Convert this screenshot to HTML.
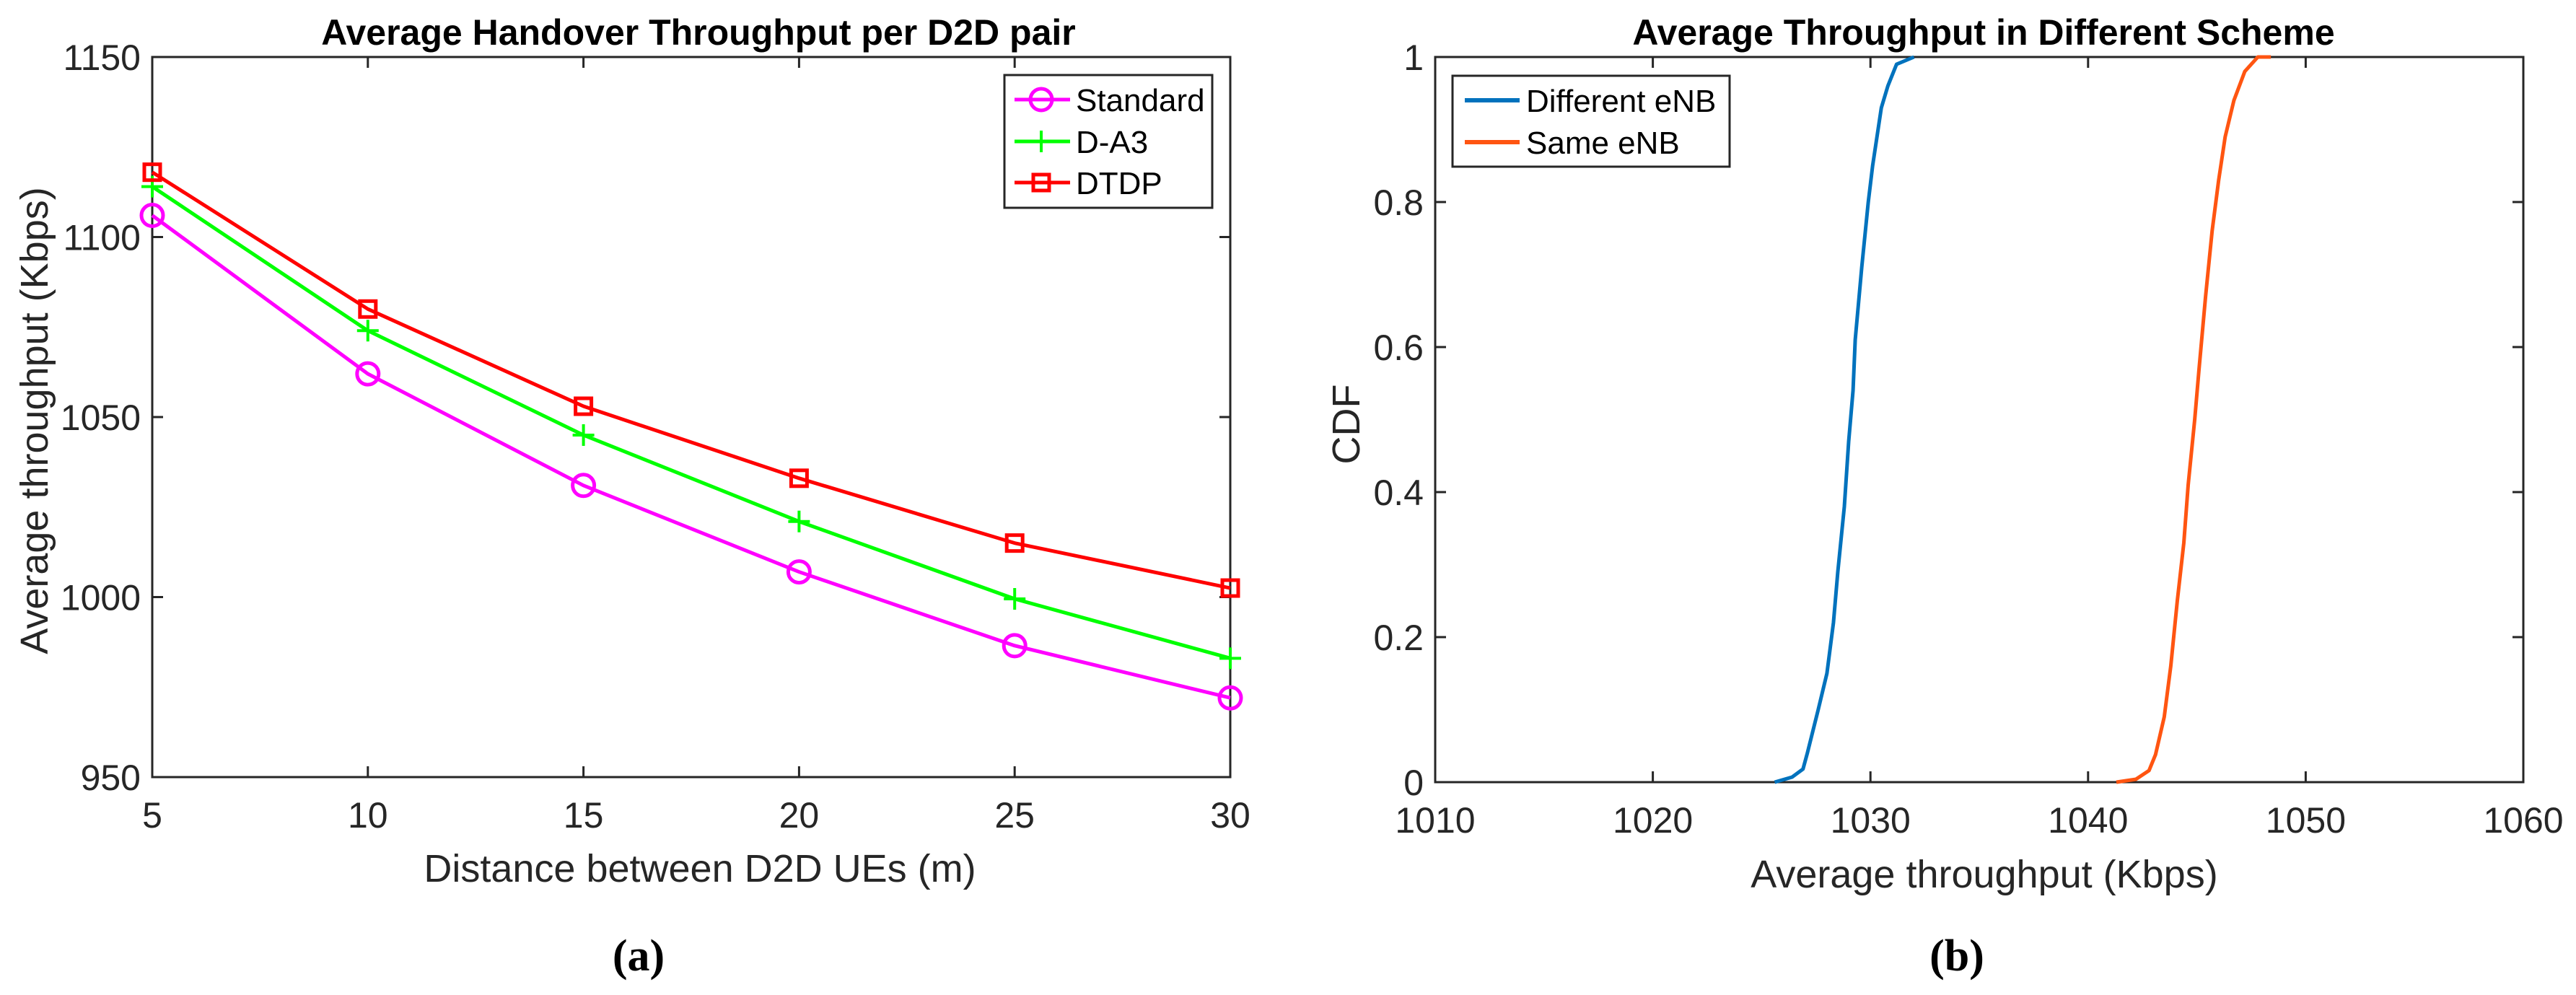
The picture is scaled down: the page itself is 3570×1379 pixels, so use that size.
<!DOCTYPE html>
<html><head><meta charset="utf-8">
<style>
html,body{margin:0;padding:0;background:#fff;}
svg{display:block;font-family:"Liberation Sans",Arial,sans-serif;}
</style></head>
<body>
<svg id="fig" width="3570" height="1379" viewBox="0 0 3570 1379" xmlns="http://www.w3.org/2000/svg">
<rect width="3570" height="1379" fill="#fff"/>
<g id="chartA"></g>
<g id="chartB"></g>
<text x="885" y="1345" font-family="Liberation Serif,serif" font-weight="bold" font-size="62" text-anchor="middle">(a)</text>
<text x="2712" y="1345" font-family="Liberation Serif,serif" font-weight="bold" font-size="62" text-anchor="middle">(b)</text>
</svg>
<script>
const distances = [5,10,15,20,25,30];
const standardVals = [1106,1062,1031,1007,986.5,972];
const da3Vals = [1114,1074,1045,1021,999.5,983];
const dtdpVals = [1118,1080,1053,1033,1015,1002.5];
const yTicksA = [950,1000,1050,1100,1150];
const xTicksA = [5,10,15,20,25,30];

const diffX = [1025.6,1026.4,1026.9,1027.1,1027.6,1028.0,1028.3,1028.5,1028.8,1029.0,1029.2,1029.3,1029.6,1029.9,1030.1,1030.5,1030.8,1031.2,1032.0];
const diffCdf = [0,0.007,0.018,0.04,0.1,0.15,0.22,0.29,0.38,0.47,0.54,0.61,0.71,0.80,0.85,0.93,0.96,0.99,1];
const sameX = [1041.3,1042.2,1042.8,1043.1,1043.5,1043.8,1044.1,1044.4,1044.6,1044.9,1045.1,1045.4,1045.7,1046.0,1046.3,1046.7,1047.2,1047.8,1048.4];
const sameCdf = [0,0.004,0.016,0.038,0.09,0.16,0.25,0.33,0.41,0.50,0.57,0.67,0.76,0.83,0.89,0.94,0.98,1.0,1];
const yTicksB = [0,0.2,0.4,0.6,0.8,1];
const yTickLabelsB = ["0","0.2","0.4","0.6","0.8","1"];
const xTicksB = [1010,1020,1030,1040,1050,1060];

const NS="http://www.w3.org/2000/svg";
function mk(parent,tag,attrs,text){const e=document.createElementNS(NS,tag);for(const k in attrs)e.setAttribute(k,attrs[k]);if(text!==undefined)e.textContent=text;parent.appendChild(e);return e;}

function axes(g,L,R,T,B,xt,xl,yt,yl,xs,ys){
  for(let i=0;i<xt.length;i++){const x=xs(xt[i]);
    mk(g,'line',{x1:x,x2:x,y1:B,y2:B-15,stroke:'#262626','stroke-width':3});
    mk(g,'line',{x1:x,x2:x,y1:T,y2:T+15,stroke:'#262626','stroke-width':3});
    const t=mk(g,'text',{x:x,y:B+70,'font-size':50,'text-anchor':'middle',fill:'#262626'},xl[i]);
    
    
  }
  for(let i=0;i<yt.length;i++){const y=ys(yt[i]);
    mk(g,'line',{x1:L,x2:L+15,y1:y,y2:y,stroke:'#262626','stroke-width':3});
    mk(g,'line',{x1:R,x2:R-15,y1:y,y2:y,stroke:'#262626','stroke-width':3});
    const t=mk(g,'text',{x:L-16,y:y+18,'font-size':50,'text-anchor':'end',fill:'#262626'},yl[i]);
    
    
  }
  const f=mk(g,'rect',{x:L,y:T,width:R-L,height:B-T,fill:'none',stroke:'#262626','stroke-width':3});
  
  
}

// Chart A
(function(){
  const g=document.getElementById('chartA');
  const L=211,R=1705,T=79,B=1077;
  const xs=v=>L+(v-5)/25*(R-L), ys=v=>B-(v-950)/200*(B-T);
  axes(g,L,R,T,B,xTicksA,xTicksA.map(String),yTicksA,yTicksA.map(String),xs,ys);
  const t=mk(g,'text',{x:968,y:62,'font-size':50,'font-weight':'bold','text-anchor':'middle'},'Average Handover Throughput per D2D pair');
  
  
  const xl=mk(g,'text',{x:970,y:1222,'font-size':54,'text-anchor':'middle',fill:'#262626'},'Distance between D2D UEs (m)');
  
  
  const yl=mk(g,'text',{x:0,y:0,'font-size':54,'text-anchor':'middle',fill:'#262626',transform:'translate(66,583) rotate(-90)'},'Average throughput (Kbps)');
  
  
  function marker(p,type,x,y,c){
    if(type==='o')return mk(p,'circle',{cx:x,cy:y,r:15,fill:'none',stroke:c,'stroke-width':5});
    if(type==='+'){const gg=mk(p,'g',{});mk(gg,'line',{x1:x-15,x2:x+15,y1:y,y2:y,stroke:c,'stroke-width':4});mk(gg,'line',{x1:x,x2:x,y1:y-15,y2:y+15,stroke:c,'stroke-width':4});return gg;}
    return mk(p,'rect',{x:x-11,y:y-11,width:22,height:22,fill:'none',stroke:c,'stroke-width':5});
  }
  const series=[[standardVals,'#ff00ff','o','standard'],[da3Vals,'#00ff00','+','d-a3'],[dtdpVals,'#ff0000','s','dtdp']];
  series.forEach(([vals,c,m,n])=>{
    const sg=mk(g,'g',{});
    
    
    mk(sg,'polyline',{points:vals.map((v,i)=>xs(distances[i])+','+ys(v)).join(' '),fill:'none',stroke:c,'stroke-width':5,'stroke-linejoin':'round'});
    vals.forEach((v,i)=>{const mm=marker(sg,m,xs(distances[i]),ys(v),c);
      
      });
  });
  const lg=mk(g,'g',{});
  
  
  mk(lg,'rect',{x:1392,y:104,width:288,height:184,fill:'#fff',stroke:'#262626','stroke-width':3});
  const labels=['Standard','D-A3','DTDP'],ly=[138,196,253];
  series.forEach(([v,c,m,n],i)=>{
    const e=mk(lg,'g',{});
    
    
    mk(e,'line',{x1:1406,x2:1483,y1:ly[i],y2:ly[i],stroke:c,'stroke-width':5});
    marker(e,m,1443,ly[i],c);
    mk(e,'text',{x:1491,y:ly[i]+16,'font-size':44},labels[i]);
  });
})();

// Chart B
(function(){
  const g=document.getElementById('chartB');
  const L=1989,R=3497,T=79,B=1084;
  const xs=v=>L+(v-1010)/50*(R-L), ys=v=>B-v*(B-T);
  axes(g,L,R,T,B,xTicksB,xTicksB.map(String),yTicksB,yTickLabelsB,xs,ys);
  const t=mk(g,'text',{x:2749,y:62,'font-size':50,'font-weight':'bold','text-anchor':'middle'},'Average Throughput in Different Scheme');
  
  
  const xl=mk(g,'text',{x:2750,y:1230,'font-size':54,'text-anchor':'middle',fill:'#262626'},'Average throughput (Kbps)');
  
  
  const yl=mk(g,'text',{x:0,y:0,'font-size':54,'text-anchor':'middle',fill:'#262626',transform:'translate(1884,588) rotate(-90)'},'CDF');
  
  
  const s=[[diffX,diffCdf,'#0072bd','different-enb'],[sameX,sameCdf,'#ff5511','same-enb']];
  s.forEach(([xv,yv,c,n])=>{
    const p=mk(g,'polyline',{points:xv.map((v,i)=>xs(v)+','+ys(yv[i])).join(' '),fill:'none',stroke:c,'stroke-width':5,'stroke-linejoin':'round'});
    
    
  });
  const lg=mk(g,'g',{});
  
  
  mk(lg,'rect',{x:2013,y:105,width:384,height:126,fill:'#fff',stroke:'#262626','stroke-width':3});
  const labels=['Different eNB','Same eNB'],ly=[139,197];
  s.forEach(([a,b,c,n],i)=>{
    const e=mk(lg,'g',{});
    
    
    mk(e,'line',{x1:2030,x2:2106,y1:ly[i],y2:ly[i],stroke:c,'stroke-width':6});
    mk(e,'text',{x:2115,y:ly[i]+16,'font-size':44},labels[i]);
  });
})();
</script>
</body></html>
